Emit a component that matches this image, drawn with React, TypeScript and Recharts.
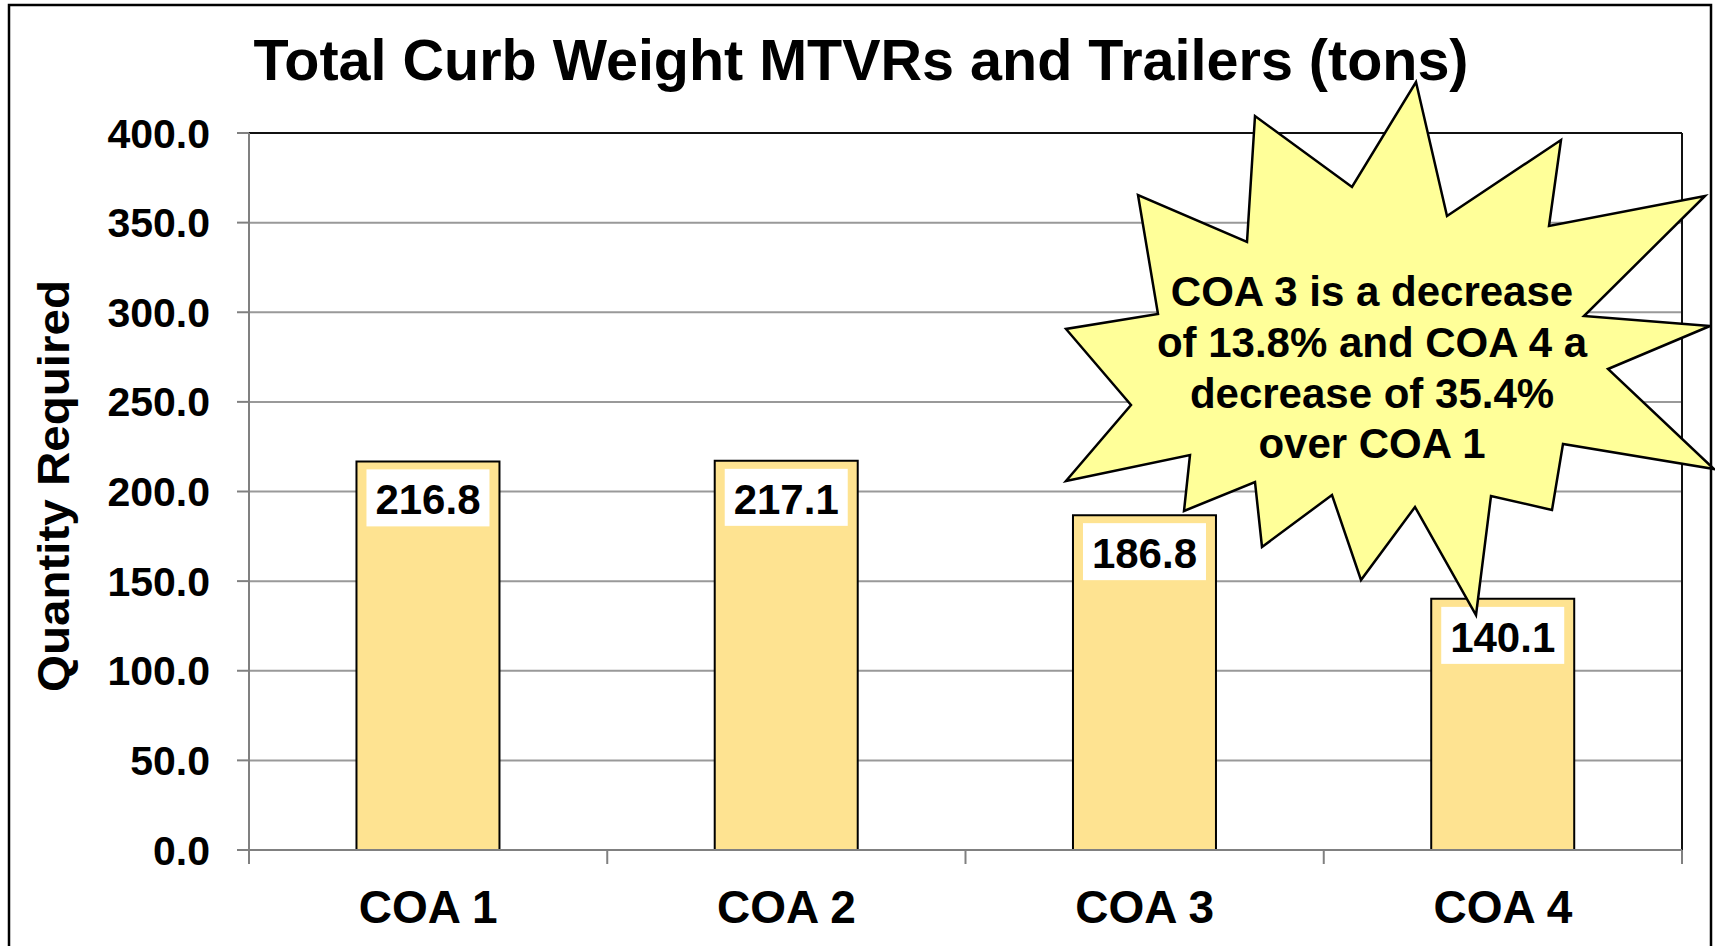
import React from "react";
import { BarChart, Bar, XAxis, YAxis, CartesianGrid, LabelList, ReferenceLine } from "recharts";

const categories = ["COA 1", "COA 2", "COA 3", "COA 4"];
const curbWeights = [216.8, 217.1, 186.8, 140.1];
const yTicks = [0, 50, 100, 150, 200, 250, 300, 350, 400];
const calloutLines = ["COA 3 is a decrease", "of 13.8% and COA 4 a", "decrease of 35.4%", "over COA 1"];

// starburst callout outline (page pixels)
const starPoints = [
  [1416, 82], [1447, 216], [1561, 140], [1549, 226], [1705, 196], [1584, 316],
  [1710, 326], [1608, 369], [1714, 469], [1563, 444], [1552, 510], [1491, 496],
  [1476, 615], [1415, 507], [1361, 580], [1332, 495], [1262, 547], [1255, 482],
  [1184, 511], [1190, 455], [1066, 481], [1131, 405], [1066, 329], [1158, 314],
  [1138, 195], [1247, 242], [1255, 116], [1352, 187],
];

const data = categories.map((name, i) => ({ name, weight: curbWeights[i] }));

const FONT = '"Liberation Sans", Arial, Helvetica, sans-serif';
const W = 1715;
const H = 946;

const ValueLabel = (props: any) => {
  const { x, y, width, value } = props;
  return (
    <g>
      <rect x={x + 10} y={y + 8} width={width - 20} height={57} fill="#ffffff" />
      <text
        x={x + width / 2}
        y={y + 53}
        textAnchor="middle"
        fontSize={42}
        fontWeight="bold"
        fontFamily={FONT}
        fill="#000"
      >
        {Number(value).toFixed(1)}
      </text>
    </g>
  );
};

const CategoryTick = (props: any) => {
  const { x, y, payload, index, visibleTicksCount, width } = props;
  const band = (width || 1433) / (visibleTicksCount || categories.length);
  const left = x - band / 2;
  const right = x + band / 2;
  return (
    <g>
      <line x1={left} y1={y} x2={left} y2={y + 14} stroke="#808080" strokeWidth={2} />
      {index === visibleTicksCount - 1 && (
        <line x1={right} y1={y} x2={right} y2={y + 14} stroke="#808080" strokeWidth={2} />
      )}
      <text x={x} y={y + 73} textAnchor="middle" fontSize={46} fontWeight="bold" fontFamily={FONT} fill="#000">
        {payload.value}
      </text>
    </g>
  );
};

export default function App() {
  return (
    <div style={{ position: "absolute", left: 0, top: 0, width: W, height: H, background: "#fff" }}>
      <BarChart
        width={W}
        height={H}
        data={data}
        margin={{ top: 133, right: 33, bottom: 0, left: 0 }}
        barCategoryGap="30%"
      >
        <CartesianGrid vertical={false} stroke="#999999" strokeWidth={2} />
        <XAxis
          dataKey="name"
          height={96}
          axisLine={{ stroke: "#808080", strokeWidth: 2 }}
          tickLine={false}
          tickSize={0}
          tickMargin={0}
          tick={<CategoryTick />}
          interval={0}
        />
        <YAxis
          width={249}
          domain={[0, 400]}
          ticks={yTicks}
          interval={0}
          tickFormatter={(v: number) => v.toFixed(1)}
          axisLine={{ stroke: "#808080", strokeWidth: 2 }}
          tickLine={{ stroke: "#808080", strokeWidth: 2 }}
          tickSize={12}
          tickMargin={27}
          tick={{ fontSize: 41, fontWeight: "bold", fontFamily: FONT, fill: "#000" }}
        />
        <Bar dataKey="weight" fill="#FEE391" stroke="#000" strokeWidth={2} isAnimationActive={false}>
          <LabelList dataKey="weight" content={<ValueLabel />} />
        </Bar>
        <ReferenceLine y={400} stroke="#111" strokeWidth={2} />
        <ReferenceLine x="COA 4" position="end" stroke="#111" strokeWidth={2} />
      </BarChart>
      <svg
        width={W}
        height={H}
        style={{ position: "absolute", left: 0, top: 0, pointerEvents: "none" }}
      >
        <rect x={9} y={5} width={1702} height={980} fill="none" stroke="#000" strokeWidth={2.5} />
        <text x={861} y={80} textAnchor="middle" fontSize={57.5} fontWeight="bold" fontFamily={FONT} fill="#000">
          Total Curb Weight MTVRs and Trailers (tons)
        </text>
        <text
          transform="translate(69,486) rotate(-90)"
          textAnchor="middle"
          fontSize={44}
          fontWeight="bold"
          fontFamily={FONT}
          fill="#000"
          textLength={412}
          lengthAdjust="spacingAndGlyphs"
        >
          Quantity Required
        </text>
        <polygon
          points={starPoints.map((p) => p.join(",")).join(" ")}
          fill="#FFFF99"
          stroke="#000"
          strokeWidth={2.5}
          strokeLinejoin="miter"
        />
        {calloutLines.map((line, i) => (
          <text
            key={line}
            x={1372}
            y={306 + i * 50.8}
            textAnchor="middle"
            fontSize={42}
            fontWeight="bold"
            fontFamily={FONT}
            fill="#000"
          >
            {line}
          </text>
        ))}
      </svg>
    </div>
  );
}
